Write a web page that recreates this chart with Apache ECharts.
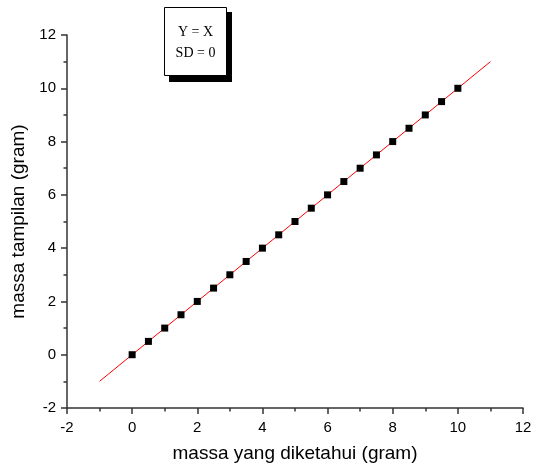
<!DOCTYPE html>
<html><head><meta charset="utf-8">
<script src="https://cdn.jsdelivr.net/npm/echarts@6/dist/echarts.min.js"></script>
<style>html,body{margin:0;padding:0;background:#fff}#c{width:537px;height:468px}</style>
</head><body><div id="c"></div>
<script>
var xKnown = [0,0.5,1,1.5,2,2.5,3,3.5,4,4.5,5,5.5,6,6.5,7,7.5,8,8.5,9,9.5,10];
var yShown = [0,0.5,1,1.5,2,2.5,3,3.5,4,4.5,5,5.5,6,6.5,7,7.5,8,8.5,9,9.5,10];
var fitX = [-1, 11];
var fitY = [-1, 11];
var legendLines = ['Y = X', 'SD = 0'];

var chart = echarts.init(document.getElementById('c'));
var axisCommon = {
  min: -2, max: 12, interval: 2,
  nameLocation: 'middle',
  nameTextStyle: {fontFamily: 'Liberation Sans', fontSize: 19, color: '#000'},
  axisLine: {show: true, onZero: false, lineStyle: {color: '#333', width: 1.5}},
  axisTick: {show: true, inside: false, length: 6, lineStyle: {color: '#333', width: 1.5}},
  minorTick: {show: true, splitNumber: 2, length: 3.5, lineStyle: {color: '#333', width: 1.5}},
  axisLabel: {fontFamily: 'Liberation Sans', fontSize: 15, color: '#000'},
  splitLine: {show: false}
};
chart.setOption({
  animation: false,
  grid: {left: 67, right: 14, top: 35, bottom: 60},
  xAxis: Object.assign({}, axisCommon, {type: 'value', name: 'massa yang diketahui (gram)', nameGap: 36,
    axisLabel: Object.assign({}, axisCommon.axisLabel, {margin: 12})}),
  yAxis: Object.assign({}, axisCommon, {type: 'value', name: 'massa tampilan (gram)', nameGap: 36,
    axisLabel: Object.assign({}, axisCommon.axisLabel, {margin: 11})}),
  series: [
    {type: 'line', data: fitX.map(function(x,i){return [x, fitY[i]];}), showSymbol: false, symbol: 'none',
     lineStyle: {color: '#ff0000', width: 1}, z: 2},
    {type: 'scatter', data: xKnown.map(function(x,i){return [x, yShown[i]];}), symbol: 'rect', symbolSize: 7,
     itemStyle: {color: '#000', opacity: 1}, z: 3}
  ],
  graphic: [
    {type: 'rect', shape: {x: 169, y: 12, width: 63, height: 70}, style: {fill: '#000'}},
    {type: 'rect', shape: {x: 164.5, y: 7.5, width: 62, height: 68}, style: {fill: '#fff', stroke: '#000', lineWidth: 1}},
    {type: 'text', style: {text: legendLines[0], x: 195.5, y: 32, align: 'center', verticalAlign: 'middle',
      font: '14px "Liberation Serif"', fill: '#000'}},
    {type: 'text', style: {text: legendLines[1], x: 195.5, y: 53, align: 'center', verticalAlign: 'middle',
      font: '14px "Liberation Serif"', fill: '#000'}}
  ]
});
</script></body></html>
